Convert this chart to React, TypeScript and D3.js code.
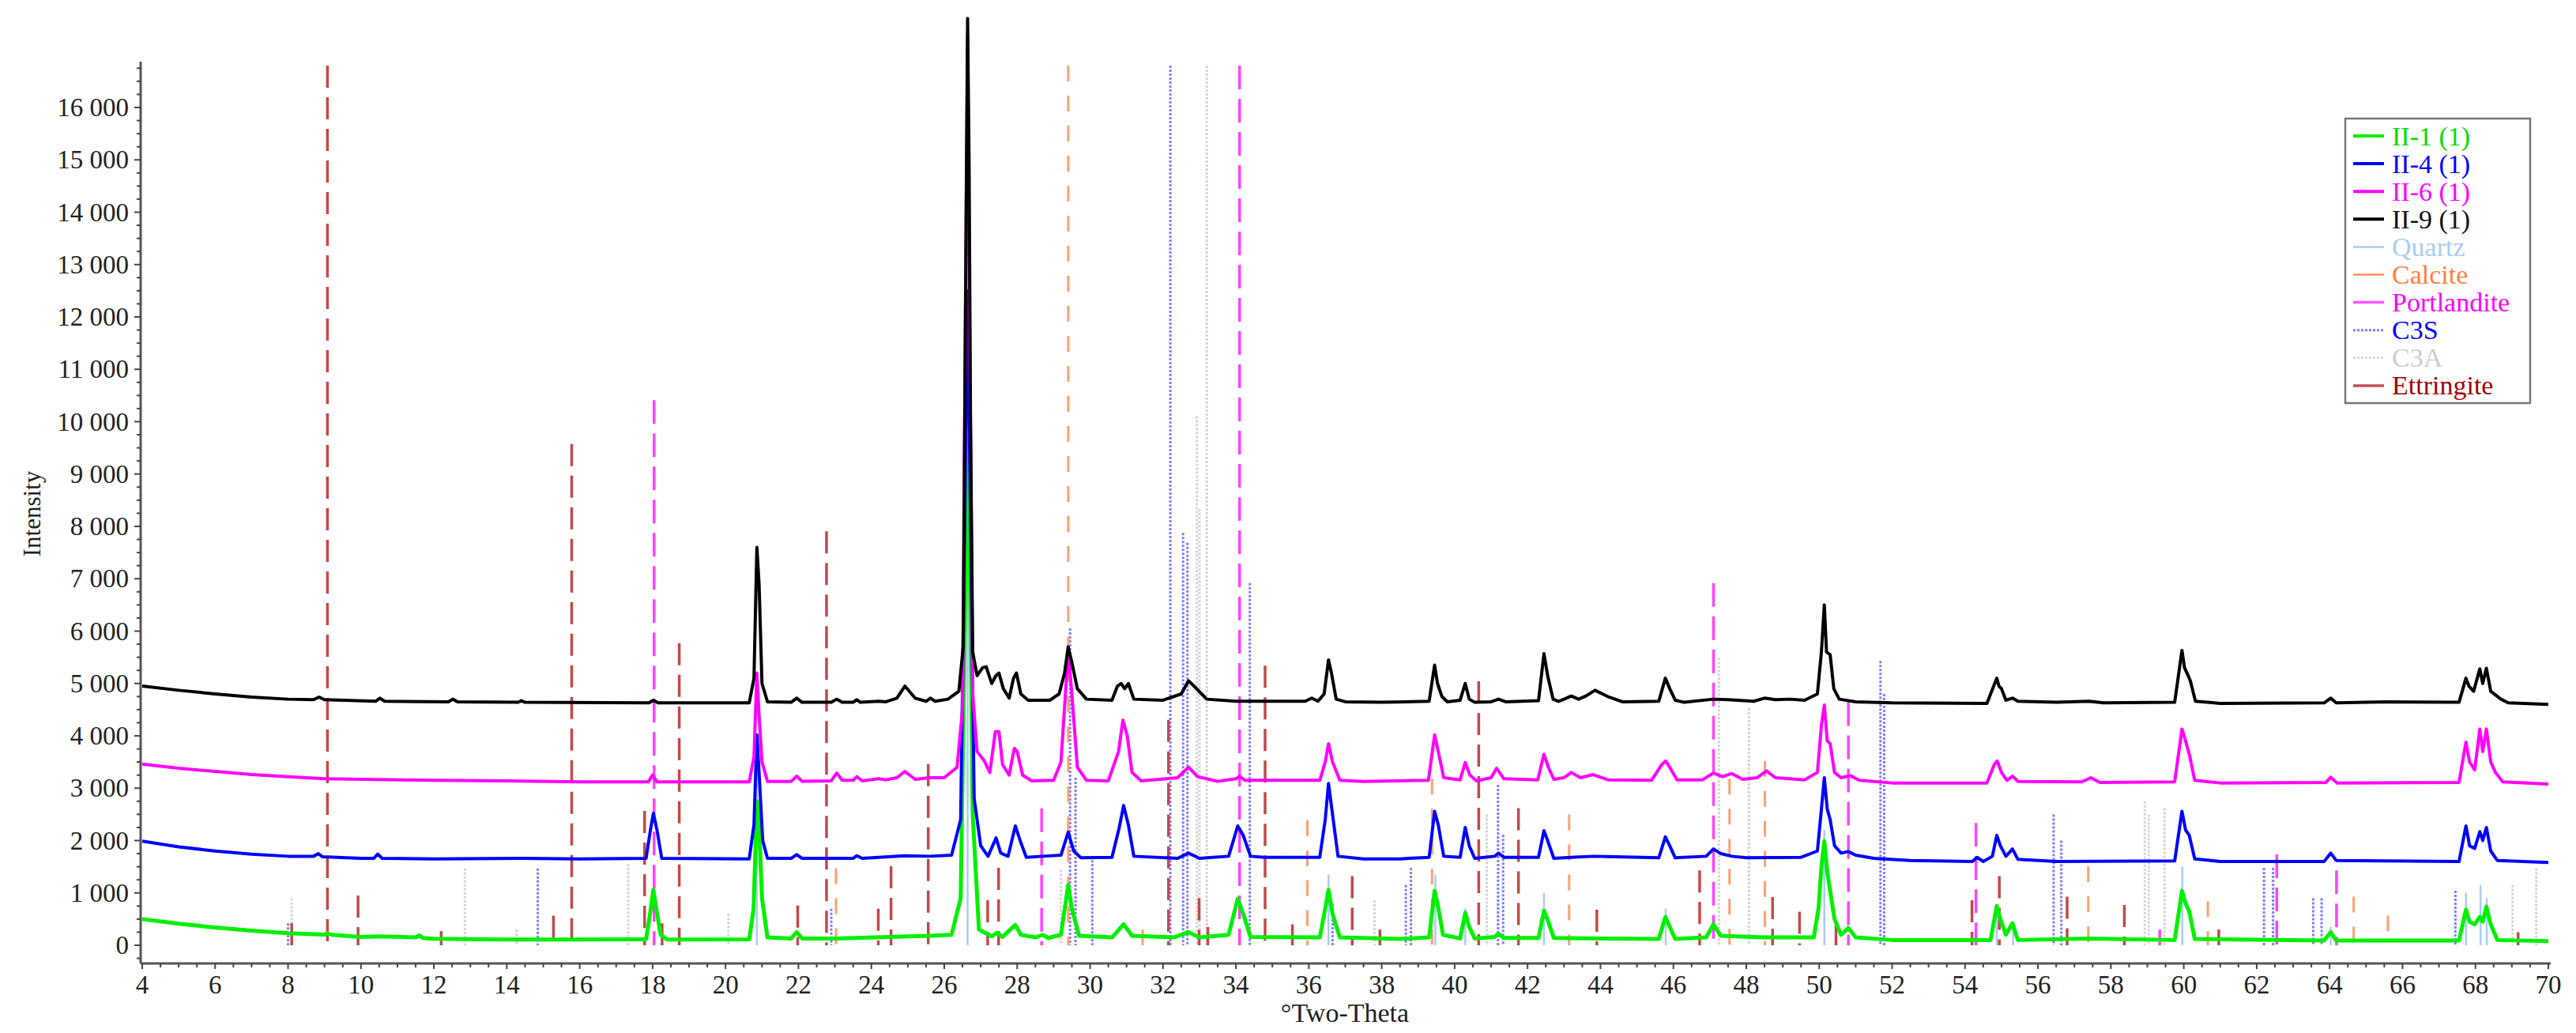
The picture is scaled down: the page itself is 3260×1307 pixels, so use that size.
import React from 'react';
import { scaleLinear, line, range, formatLocale } from 'd3';

const width = 3260;
const height = 1307;
const fontFamily = '"Liberation Serif", "Times New Roman", serif';

// measured traces, [2theta, counts]
const ii1Points: [number, number][] = [
  [4,500],[5,410],[6,340],[7,280],[8,230],[9,205],[9.08,230],[9.2,200],[10,160],[10.5,170],[11.5,150],[11.6,190],[11.7,140],[12,125],[14,110],[16,110],
  [17.82,115],[17.93,600],[18.02,1060],[18.1,700],[18.22,200],[18.4,110],[20.65,115],[20.77,700],[20.86,2750],[20.92,2300],[21.0,900],[21.15,150],
  [21.8,130],[21.95,250],[22.1,130],[23,130],[25.6,180],[26.2,200],[26.45,900],[26.56,6000],[26.64,9700],[26.7,7500],[26.78,2500],[26.95,300],
  [27.3,170],[27.45,240],[27.6,160],[27.95,390],[28.1,200],[28.5,150],[28.7,200],[28.85,140],[29.2,200],[29.4,1150],[29.5,700],[29.7,180],
  [30.6,150],[30.92,400],[31.15,180],[32.3,150],[32.7,250],[33.0,150],[33.8,200],[34.05,890],[34.2,600],[34.4,160],[36.3,150],[36.45,700],
  [36.54,1060],[36.65,600],[36.85,150],[38.5,120],[39.3,150],[39.45,1040],[39.53,800],[39.68,200],[40.15,130],[40.29,620],[40.4,350],[40.55,130],
  [41.1,160],[41.2,220],[41.35,140],[42.3,140],[42.45,660],[42.57,450],[42.72,140],[45.6,120],[45.78,540],[45.9,350],[46.05,120],[46.9,150],
  [47.1,400],[47.3,180],[48.5,150],[49.85,150],[49.98,700],[50.06,1500],[50.14,1990],[50.22,1400],[50.3,1040],[50.42,500],[50.6,200],[50.8,330],
  [51.0,150],[52,100],[54.7,100],[54.87,750],[54.97,500],[55.12,200],[55.3,420],[55.45,100],[57.4,130],[59.75,100],[59.95,1040],[60.05,800],
  [60.15,650],[60.3,120],[63.85,90],[64.03,250],[64.18,90],[67.55,90],[67.74,680],[67.84,450],[67.98,400],[68.12,540],[68.2,450],[68.3,740],
  [68.42,400],[68.6,100],[70,80]
];

const ii4Points: [number, number][] = [
  [4,1990],[5,1880],[6,1800],[7,1740],[8,1700],[8.7,1700],[8.83,1750],[8.95,1690],[10.0,1660],[10.35,1660],[10.46,1740],[10.58,1660],[12,1650],
  [14.4,1660],[16,1650],[17.82,1660],[17.94,2200],[18.02,2520],[18.12,2200],[18.25,1660],[20.65,1650],[20.78,2300],[20.86,4020],[20.92,3300],
  [21.02,2000],[21.15,1660],[21.8,1660],[21.95,1730],[22.1,1660],[23.5,1660],[23.6,1710],[23.75,1660],[24.2,1680],[24.92,1710],[25.6,1700],
  [26.2,1720],[26.45,2400],[26.56,8000],[26.64,12500],[26.72,8000],[26.82,2800],[27.0,1900],[27.2,1700],[27.42,2050],[27.55,1760],[27.75,1700],
  [27.95,2280],[28.08,2000],[28.25,1680],[28.7,1700],[29.2,1720],[29.4,2160],[29.55,1800],[29.75,1670],[30.6,1680],[30.8,2250],[30.92,2670],
  [31.05,2300],[31.2,1700],[32.4,1660],[32.7,1760],[33.0,1660],[33.8,1700],[34.05,2280],[34.2,2100],[34.4,1700],[34.8,1680],[36.3,1680],
  [36.45,2400],[36.54,3090],[36.65,2500],[36.8,1700],[37.5,1650],[38.5,1650],[39.3,1680],[39.45,2560],[39.55,2300],[39.7,1700],[40.15,1680],
  [40.29,2250],[40.4,1900],[40.55,1660],[41.1,1700],[41.2,1760],[41.35,1680],[42.3,1680],[42.45,2190],[42.55,2000],[42.72,1660],[43.2,1680],
  [43.8,1700],[45.6,1670],[45.78,2070],[45.9,1900],[46.05,1670],[46.9,1700],[47.1,1840],[47.3,1750],[47.6,1700],[48.0,1670],[49.5,1680],
  [49.95,1800],[50.06,2600],[50.14,3200],[50.22,2600],[50.3,2400],[50.42,1900],[50.6,1760],[50.8,1790],[51.0,1720],[51.5,1660],[52.5,1620],
  [54.2,1600],[54.33,1680],[54.5,1600],[54.75,1700],[54.87,2100],[54.97,1900],[55.12,1700],[55.3,1840],[55.45,1640],[56.5,1600],[59.75,1610],
  [59.95,2560],[60.05,2200],[60.15,2100],[60.3,1650],[61,1600],[63.85,1600],[64.03,1760],[64.18,1620],[67.55,1600],[67.74,2280],[67.84,1900],
  [67.98,1850],[68.12,2170],[68.2,2000],[68.3,2250],[68.42,1800],[68.6,1620],[70,1580]
];

const ii6Points: [number, number][] = [
  [4,3460],[5,3380],[6,3320],[7,3260],[8,3220],[9,3180],[10,3170],[12,3150],[14,3140],[16,3120],[17.88,3120],[18.0,3250],[18.12,3120],
  [20.65,3120],[20.78,3600],[20.86,5200],[20.92,4400],[21.0,3500],[21.15,3130],[21.8,3130],[21.95,3230],[22.1,3130],[22.9,3140],[23.05,3290],
  [23.2,3150],[23.5,3150],[23.6,3220],[23.75,3140],[24.2,3180],[24.4,3160],[24.7,3200],[24.92,3320],[25.2,3170],[25.6,3200],[26.0,3200],
  [26.35,3400],[26.5,4500],[26.58,12000],[26.64,17350],[26.7,11500],[26.78,4800],[26.9,3700],[27.1,3520],[27.25,3300],[27.4,4080],[27.5,4080],
  [27.6,3450],[27.78,3250],[27.92,3760],[28.0,3700],[28.15,3250],[28.4,3140],[29.0,3150],[29.2,3500],[29.4,5600],[29.5,4800],[29.65,3400],
  [29.9,3150],[30.5,3140],[30.78,3700],[30.9,4300],[31.02,4000],[31.15,3300],[31.4,3140],[32.4,3200],[32.7,3400],[32.95,3220],[33.5,3130],
  [34.0,3180],[34.1,3230],[34.25,3150],[36.3,3150],[36.45,3500],[36.54,3850],[36.65,3500],[36.85,3150],[37.5,3130],[39.28,3150],[39.45,4020],
  [39.55,3700],[39.7,3200],[40.15,3160],[40.29,3490],[40.42,3250],[40.6,3140],[41.0,3200],[41.15,3380],[41.35,3180],[42.28,3160],[42.45,3650],
  [42.57,3400],[42.72,3170],[43.0,3200],[43.2,3300],[43.45,3200],[43.8,3260],[44.2,3160],[45.4,3150],[45.68,3450],[45.79,3520],[45.9,3400],
  [46.1,3160],[46.8,3160],[47.1,3290],[47.35,3220],[47.6,3280],[47.9,3170],[48.3,3200],[48.55,3330],[48.8,3200],[49.6,3160],[49.95,3300],
  [50.06,4200],[50.14,4590],[50.22,3900],[50.3,3850],[50.42,3300],[50.6,3200],[50.85,3240],[51.1,3150],[52,3100],[54.6,3100],[54.8,3450],
  [54.88,3520],[55.0,3300],[55.15,3150],[55.3,3230],[55.45,3130],[57.2,3120],[57.45,3200],[57.7,3110],[59.75,3120],[59.95,4130],[60.05,3900],
  [60.15,3650],[60.3,3150],[61,3100],[63.9,3110],[64.03,3210],[64.2,3100],[67.55,3110],[67.74,3880],[67.84,3500],[67.98,3350],[68.12,4130],
  [68.2,3700],[68.3,4130],[68.42,3500],[68.55,3300],[68.75,3120],[70,3080]
];

const ii9Points: [number, number][] = [
  [4,4950],[5,4870],[6,4800],[7,4740],[8,4700],[8.7,4690],[8.85,4740],[9.0,4690],[10.4,4660],[10.52,4720],[10.65,4660],[12.4,4650],[12.52,4700],
  [12.65,4650],[14.3,4640],[14.4,4670],[14.5,4640],[17.9,4630],[18.02,4680],[18.15,4630],[20.65,4630],[20.78,5100],[20.86,7600],[20.92,6900],
  [21.0,5000],[21.15,4650],[21.8,4640],[21.95,4720],[22.1,4640],[22.9,4640],[23.05,4700],[23.2,4640],[23.5,4640],[23.6,4690],[23.7,4640],
  [24.2,4660],[24.4,4650],[24.7,4720],[24.92,4950],[25.2,4720],[25.5,4660],[25.62,4720],[25.75,4660],[26.1,4700],[26.4,4850],[26.52,5700],
  [26.6,14000],[26.64,17700],[26.68,15000],[26.72,10000],[26.78,5600],[26.9,5150],[27.05,5300],[27.15,5320],[27.3,5000],[27.42,5150],
  [27.5,5200],[27.62,4900],[27.78,4720],[27.9,5100],[27.98,5200],[28.1,4800],[28.3,4680],[28.9,4680],[29.15,4800],[29.3,5200],[29.4,5700],
  [29.5,5400],[29.65,4900],[29.9,4700],[30.6,4680],[30.75,4950],[30.85,5000],[30.95,4900],[31.05,5000],[31.2,4700],[32.0,4680],[32.5,4800],
  [32.7,5050],[32.85,4950],[33.2,4700],[34.0,4660],[35.9,4660],[36.08,4720],[36.25,4660],[36.42,4800],[36.54,5450],[36.62,5200],[36.75,4700],
  [37.0,4650],[38.0,4640],[39.3,4660],[39.45,5350],[39.53,5000],[39.65,4750],[39.8,4650],[40.15,4680],[40.29,5000],[40.4,4700],[40.55,4640],
  [41.0,4650],[41.2,4700],[41.4,4650],[42.3,4670],[42.45,5570],[42.55,5150],[42.7,4700],[42.85,4660],[43.0,4700],[43.2,4760],[43.4,4700],
  [43.6,4760],[43.85,4870],[44.2,4750],[44.6,4650],[45.6,4660],[45.78,5100],[45.9,4900],[46.05,4680],[46.3,4640],[47.1,4700],[47.5,4690],
  [48.2,4660],[48.5,4720],[48.8,4690],[49.2,4700],[49.6,4680],[49.95,4800],[50.06,5600],[50.14,6500],[50.2,5600],[50.3,5550],[50.4,4900],
  [50.55,4700],[51.0,4650],[52.0,4630],[54.6,4620],[54.87,5100],[54.93,4950],[55.0,4900],[55.12,4680],[55.3,4720],[55.45,4660],[56.5,4640],
  [57.4,4660],[57.8,4630],[59.75,4640],[59.95,5630],[60.02,5300],[60.12,5150],[60.18,5050],[60.32,4660],[61.0,4620],[63.85,4630],[64.03,4720],
  [64.18,4630],[65.6,4650],[67.55,4640],[67.74,5100],[67.82,4950],[67.95,4850],[68.12,5280],[68.2,5000],[68.3,5290],[68.42,4850],[68.7,4700],
  [68.9,4630],[70,4600]
];

// reference patterns, [2theta, height]
const quartzSticks: [number, number][] = [
  [20.86,3700],[26.64,16800],[36.54,1350],[39.47,1350],[40.29,700],[42.45,1000],[45.79,700],[50.14,2200],[54.87,700],[55.32,350],
  [59.96,1500],[64.03,350],[67.74,1000],[68.14,1150],[68.31,900]
];
const calciteSticks: [number, number][] = [
  [23.03,1470],[29.4,16800],[31.44,300],[35.96,2390],[39.38,3180],[43.14,2500],[47.54,3180],[48.51,3520],[57.38,1510],[60.66,840],
  [64.66,930],[65.6,570]
];
const portlanditeSticks: [number, number][] = [
  [18.04,10410],[28.67,2615],[34.1,16800],[47.1,6917],[50.8,4642],[54.3,2334],[59.34,300],[62.55,1736],[64.19,1430]
];
const c3sSticks: [number, number][] = [
  [8.0,420],[14.85,1467],[22.9,700],[29.45,6052],[29.6,3200],[30.06,1627],[32.2,16800],[32.55,7876],[32.67,7685],[34.38,6917],[36.65,800],
  [38.66,1150],[38.8,1480],[41.19,3065],[41.33,2110],[51.68,5432],[51.78,4800],[56.43,2500],[56.64,2000],[62.2,1480],[62.45,1480],
  [63.55,900],[63.78,900],[67.45,1040]
];
const c3aSticks: [number, number][] = [
  [8.1,900],[12.85,1467],[14.27,300],[17.33,1550],[20.08,600],[29.2,1440],[32.93,10104],[33.0,8330],[33.2,16800],[37.8,860],[40.88,2500],
  [47.25,5490],[48.07,4530],[58.93,2750],[59.04,2500],[59.47,2620],[69.02,1150],[69.67,1467]
];
const ettringiteSticks: [number, number][] = [
  [8.1,420],[9.08,16800],[9.92,950],[12.2,270],[15.28,565],[15.78,9575],[17.78,2565],[18.26,420],[18.73,5770],[21.98,757],[22.77,7907],
  [24.19,700],[24.54,1510],[25.56,3460],[27.19,860],[27.49,1480],[32.15,4305],[32.99,900],[33.23,350],[34.8,5340],[35.55,400],[37.19,1320],
  [37.95,300],[40.66,5040],[41.75,2620],[43.9,680],[46.72,1430],[48.72,920],[49.46,640],[50.46,400],[54.19,860],[54.94,1320],[56.8,930],
  [58.37,770],[60.96,300],[69.17,250]
];

const xTickLabels = [4,6,8,10,12,14,16,18,20,22,24,26,28,30,32,34,36,38,40,42,44,46,48,50,52,54,56,58,60,62,64,66,68,70];
const yTickValues = [0,1000,2000,3000,4000,5000,6000,7000,8000,9000,10000,11000,12000,13000,14000,15000,16000];

const legendLabels = ['II-1 (1)', 'II-4 (1)', 'II-6 (1)', 'II-9 (1)', 'Quartz', 'Calcite', 'Portlandite', 'C3S', 'C3A', 'Ettringite'];

const xScale = scaleLinear().domain([4, 70]).range([180, 3225]);
const yScale = scaleLinear().domain([0, 16000]).range([1196, 136]);

const spaced = formatLocale({ decimal: '.', thousands: '\u2009', grouping: [3], currency: ['', ''] }).format(',');
const fmt = (v: number) => spaced(v).replace('\u2009', ' ');

const traceLine = line<[number, number]>()
  .x(d => xScale(d[0]))
  .y(d => yScale(d[1]));

const traces = [
  { pts: ii1Points, color: '#00f000', w: 5 },
  { pts: ii4Points, color: '#0000ff', w: 4 },
  { pts: ii6Points, color: '#ff00ff', w: 4 },
  { pts: ii9Points, color: '#000000', w: 4 }
];

const stickSets = [
  { sticks: c3aSticks, color: '#d4d4d4', w: 3, dash: '3 2' },
  { sticks: quartzSticks, color: '#a8cdf2', w: 2.5, dash: undefined },
  { sticks: c3sSticks, color: '#7e7eff', w: 3, dash: '3 2' },
  { sticks: calciteSticks, color: '#ffa070', w: 3, dash: '20 18' },
  { sticks: ettringiteSticks, color: '#c24a4a', w: 3.5, dash: '28 12' },
  { sticks: portlanditeSticks, color: '#ff44ff', w: 3.5, dash: '30 12' }
];

const legendStyles = [
  { color: '#00dd00', line: '#00f000', w: 4, dash: undefined },
  { color: '#0000ff', line: '#0000ff', w: 4, dash: undefined },
  { color: '#ff00ff', line: '#ff00ff', w: 4, dash: undefined },
  { color: '#111111', line: '#000000', w: 4, dash: undefined },
  { color: '#a8cdf2', line: '#a8cdf2', w: 2.5, dash: undefined },
  { color: '#ff8040', line: '#ff9060', w: 2.5, dash: undefined },
  { color: '#ff00ff', line: '#ff55ff', w: 3.5, dash: undefined },
  { color: '#0000ff', line: '#7e7eff', w: 3, dash: '3 2' },
  { color: '#cccccc', line: '#d4d4d4', w: 3, dash: '3 2' },
  { color: '#a00000', line: '#c05050', w: 3.5, dash: undefined }
];

function App() {
  const axisX = 178;
  const axisBottom = 1219;
  const axisTop = 78;
  const xMinor = range(4, 70.01, 0.5);
  const yMinor = range(-250, 16751, 250);

  return (
    <svg width={width} height={height} style={{ position: 'absolute', left: 0, top: 0, background: '#fff' }} fontFamily={fontFamily}>
      {/* reference sticks */}
      {stickSets.map((s, i) => (
        <g key={i} stroke={s.color} strokeWidth={s.w} strokeDasharray={s.dash}>
          {s.sticks.map((d, j) => (
            <line key={j} x1={xScale(d[0])} x2={xScale(d[0])} y1={yScale(d[1])} y2={yScale(0)} />
          ))}
        </g>
      ))}

      {/* diffraction traces */}
      {traces.map((t, i) => (
        <path key={i} d={traceLine(t.pts) || ''} fill="none" stroke={t.color} strokeWidth={t.w} strokeLinejoin="round" />
      ))}

      {/* y axis */}
      <line x1={axisX} x2={axisX} y1={axisTop} y2={axisBottom} stroke="#555" strokeWidth={3} />
      {yMinor.map(v => (
        <line key={v} x1={axisX - (v % 1000 === 0 ? 8 : 5)} x2={axisX} y1={yScale(v)} y2={yScale(v)} stroke="#444" strokeWidth={2} />
      ))}
      {yTickValues.map(v => (
        <text key={v} x={163} y={yScale(v)} dy="0.34em" textAnchor="end" fontSize={33} fill="#222">{fmt(v)}</text>
      ))}
      <text transform={`translate(40, 650) rotate(-90)`} textAnchor="middle" dy="0.34em" fontSize={31} fill="#222">Intensity</text>

      {/* x axis */}
      <line x1={axisX} x2={xScale(70) + 3} y1={axisBottom} y2={axisBottom} stroke="#555" strokeWidth={3} />
      {xMinor.map(v => (
        <line key={v} x1={xScale(v)} x2={xScale(v)} y1={axisBottom} y2={axisBottom + (v % 2 === 0 ? 7 : 5)} stroke="#444" strokeWidth={2} />
      ))}
      {xTickLabels.map(v => (
        <text key={v} x={xScale(v)} y={1246} dy="0.34em" textAnchor="middle" fontSize={33} fill="#222">{v}</text>
      ))}
      <text x={1702} y={1281} dy="0.34em" textAnchor="middle" fontSize={34} fill="#222">°Two-Theta</text>

      {/* legend */}
      <rect x={2968} y={150} width={234} height={360} fill="#fff" stroke="#777" strokeWidth={2.5} />
      {legendLabels.map((label, i) => {
        const st = legendStyles[i];
        const y = 172 + i * 35.1;
        return (
          <g key={label}>
            <line x1={2978} x2={3017} y1={y} y2={y} stroke={st.line} strokeWidth={st.w} strokeDasharray={st.dash} />
            <text x={3027} y={y} dy="0.34em" fontSize={34} fill={st.color}>{label}</text>
          </g>
        );
      })}
    </svg>
  );
}

export default App;
